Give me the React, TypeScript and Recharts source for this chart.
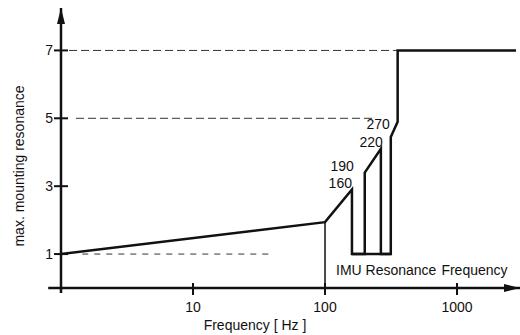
import React from 'react';
import { LineChart, Line, XAxis, YAxis, ReferenceLine, ReferenceDot } from 'recharts';

// resonance curve (x in Hz, log axis)
const mainFreq = [1, 100, 160, 160, 200, 200, 265, 265, 315, 315, 355, 355, 2800];
const mainLevel = [1, 1.94, 2.9, 1, 1, 3.4, 4.1, 1, 1, 4.45, 4.9, 7, 7];

// floor joining the resonance spikes
const floorFreq = [160, 315];
const floorLevel = [1, 1];

// thin drop line at 100 Hz
const dropFreq = [100, 100];
const dropLevel = [1.94, 0];

const xTicks = [10, 100, 1000];
const yTicks = [1, 3, 5, 7];

const peakNames = ['160', '190', '220', '270'];
const peakFreq = [160, 200, 265, 315];
const peakLevel = [2.9, 3.4, 4.1, 4.45];

const gridLevel = [1, 5, 7];
const gridFrom = [1.45, 1.3, 1.15];
const gridTo = [40, 240, 355];

const toRows = (xs: number[], ys: number[]) => xs.map((f, i) => ({ f, v: ys[i] }));

const mainData = toRows(mainFreq, mainLevel);
const floorData = toRows(floorFreq, floorLevel);
const dropData = toRows(dropFreq, dropLevel);

const FONT = '"Liberation Sans", Arial, sans-serif';
const INK = '#111';

const YTick = (props: any) => {
  const { x, y, payload } = props;
  return (
    <g>
      <line x1={x - 7} x2={x + 7} y1={y} y2={y} stroke={INK} strokeWidth={2} />
      <text x={x - 8} y={y + 5} textAnchor="end" fontSize={14} fontFamily={FONT} fill={INK}>
        {payload.value}
      </text>
    </g>
  );
};

const XTick = (props: any) => {
  const { x, y, payload } = props;
  return (
    <g>
      <line x1={x} x2={x} y1={y - 5} y2={y + 7} stroke={INK} strokeWidth={2} />
      <text x={x} y={y + 24} textAnchor="middle" fontSize={14} fontFamily={FONT} fill={INK}>
        {payload.value}
      </text>
    </g>
  );
};

// offsets of the peak labels relative to their peak
const peakDx = [0, -11, 2, -1];
const peakDy = [-2, -2, -2, -8];

export default function App() {
  return (
    <div style={{ position: 'absolute', left: 0, top: 0, background: '#fff' }}>
      <LineChart
        width={520}
        height={335}
        margin={{ top: 8, right: 0, bottom: 17, left: 21 }}
      >
        <XAxis
          dataKey="f"
          type="number"
          scale="log"
          domain={[1, 3000]}
          allowDataOverflow
          ticks={xTicks}
          height={30}
          axisLine={false}
          tickLine={false}
          tickSize={0}
          tickMargin={0}
          tick={<XTick />}
          interval={0}
        />
        <YAxis
          dataKey="v"
          type="number"
          domain={[0, 8.25]}
          allowDataOverflow
          ticks={yTicks}
          width={40}
          axisLine={false}
          tickLine={false}
          tickSize={0}
          tickMargin={0}
          tick={<YTick />}
          interval={0}
        />

        {gridLevel.map((lv, i) => (
          <ReferenceLine
            key={`g${i}`}
            segment={[{ x: gridFrom[i], y: lv }, { x: gridTo[i], y: lv }]}
            stroke="#333"
            strokeWidth={1}
            strokeDasharray={i === 0 ? '6 6' : '8 4'}
          />
        ))}

        {/* axes, drawn a little past the origin like the original */}
        <ReferenceLine
          segment={[{ x: 0.8, y: 0 }, { x: 3000, y: 0 }]}
          stroke={INK}
          strokeWidth={2.5}
          ifOverflow="visible"
        />
        <ReferenceLine
          segment={[{ x: 1, y: -0.15 }, { x: 1, y: 8.25 }]}
          stroke={INK}
          strokeWidth={2.5}
          ifOverflow="visible"
        />
        <ReferenceDot
          x={3000}
          y={0}
          ifOverflow="visible"
          shape={(p: any) => (
            <polygon points={`${p.cx},${p.cy} ${p.cx - 16},${p.cy - 4} ${p.cx - 16},${p.cy + 4}`} fill={INK} />
          )}
        />
        <ReferenceDot
          x={1}
          y={8.25}
          ifOverflow="visible"
          shape={(p: any) => (
            <polygon points={`${p.cx},${p.cy} ${p.cx - 4},${p.cy + 16} ${p.cx + 4},${p.cy + 16}`} fill={INK} />
          )}
        />

        <Line
          data={dropData}
          dataKey="v"
          type="linear"
          stroke={INK}
          strokeWidth={1.5}
          dot={false}
          activeDot={false}
          isAnimationActive={false}
        />
        <Line
          data={floorData}
          dataKey="v"
          type="linear"
          stroke={INK}
          strokeWidth={2.5}
          dot={false}
          activeDot={false}
          isAnimationActive={false}
        />
        <Line
          data={mainData}
          dataKey="v"
          type="linear"
          stroke={INK}
          strokeWidth={2.5}
          strokeLinejoin="miter"
          dot={false}
          activeDot={false}
          isAnimationActive={false}
        />

        {peakNames.map((name, i) => (
          <ReferenceDot
            key={name}
            x={peakFreq[i]}
            y={peakLevel[i]}
            ifOverflow="visible"
            shape={(p: any) => (
              <text
                x={p.cx + peakDx[i]}
                y={p.cy + peakDy[i]}
                textAnchor="end"
                fontSize={14}
                fontFamily={FONT}
                fill={INK}
              >
                {name}
              </text>
            )}
          />
        ))}

        <text x={336} y={275} fontSize={14} fontFamily={FONT} fill={INK}>
          <tspan>IMU Resonance</tspan>
          <tspan dx={5}>Frequency</tspan>
        </text>
        <text x={255} y={330} textAnchor="middle" fontSize={14} fontFamily={FONT} fill={INK}>
          Frequency [ Hz ]
        </text>
        <text
          x={24}
          y={166}
          transform="rotate(-90 24 166)"
          textAnchor="middle"
          fontSize={14}
          fontFamily={FONT}
          fill={INK}
        >
          max. mounting resonance
        </text>
      </LineChart>
    </div>
  );
}
